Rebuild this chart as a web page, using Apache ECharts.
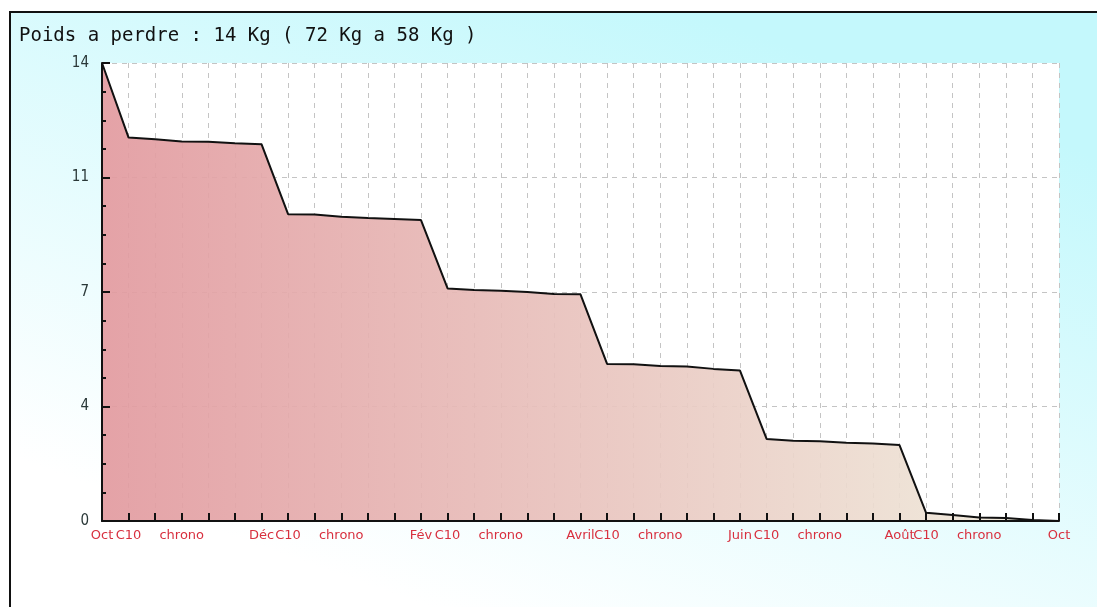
<!DOCTYPE html>
<html>
<head>
<meta charset="utf-8">
<script src="https://cdn.jsdelivr.net/npm/echarts@6/dist/echarts.min.js"></script>
<style>
  html, body { margin: 0; padding: 0; background: #fff; }
  #chart { width: 1097px; height: 607px; }
</style>
</head>
<body>
<div id="chart"></div>
<script>
// kilos restant a perdre, un point par graduation (2 mois = 6 graduations)
var titleText = "Poids a perdre : 14 Kg ( 72 Kg a 58 Kg )";
var categories = [
  "Oct", "C10", "", "chrono", "", "",
  "Déc", "C10", "", "chrono", "", "",
  "Fév", "C10", "", "chrono", "", "",
  "Avril", "C10", "", "chrono", "", "",
  "Juin", "C10", "", "chrono", "", "",
  "Août", "C10", "", "chrono", "", "",
  "Oct"
];
var remaining = [
  14, 11.72, 11.67, 11.6, 11.59, 11.55,
  11.52, 9.38, 9.37, 9.3, 9.26, 9.23,
  9.2, 7.11, 7.06, 7.04, 7.0, 6.94,
  6.93, 4.8, 4.79, 4.74, 4.72, 4.65,
  4.6, 2.51, 2.45, 2.44, 2.39, 2.37,
  2.32, 0.25, 0.18, 0.11, 0.09, 0.03,
  0
];
var yTickLabels = ["0", "4", "7", "11", "14"];

var gridDash = { color: "#c4c4c4", type: [5, 5], width: 1 };
var axisBlack = { color: "#111111", width: 2 };

var myChart = echarts.init(document.getElementById("chart"));
myChart.setOption({
  animation: false,
  backgroundColor: "#ffffff",
  graphic: [
    {
      type: "rect",
      z: -10,
      shape: { x: 10, y: 12, width: 1100, height: 610 },
      style: {
        fill: new echarts.graphic.LinearGradient(0.62, 0, 0.42, 1, [
          { offset: 0, color: "#c4f8fc" },
          { offset: 1, color: "#ffffff" }
        ]),
        stroke: "#111111",
        lineWidth: 2
      }
    }
  ],
  title: {
    text: titleText,
    left: 14,
    top: 22,
    textStyle: {
      fontFamily: "DejaVu Sans Mono",
      fontSize: 19,
      fontWeight: "normal",
      color: "#111111"
    }
  },
  grid: {
    left: 102,
    right: 38,
    top: 63,
    bottom: 86,
    show: true,
    backgroundColor: "#ffffff",
    borderWidth: 0
  },
  xAxis: [
    {
      // grille pointillee, sous la courbe
      type: "category",
      boundaryGap: false,
      data: categories,
      z: 0,
      axisLine: { show: false },
      axisTick: { show: false },
      axisLabel: { show: false },
      splitLine: { show: true, interval: 0, lineStyle: gridDash }
    },
    {
      // axe, graduations et libelles, au-dessus de la courbe
      type: "category",
      position: "bottom",
      boundaryGap: false,
      data: categories,
      z: 5,
      axisLine: { lineStyle: axisBlack },
      axisTick: { show: true, inside: true, length: 8, interval: 0, lineStyle: axisBlack },
      axisLabel: {
        interval: 0,
        margin: 8,
        color: "#d8303f",
        fontFamily: "DejaVu Sans",
        fontSize: 13
      },
      splitLine: { show: false }
    }
  ],
  yAxis: [
    {
      type: "value",
      min: 0,
      max: 14,
      interval: 3.5,
      z: 0,
      axisLine: { show: false },
      axisTick: { show: false },
      axisLabel: { show: false },
      splitLine: { show: true, lineStyle: gridDash }
    },
    {
      type: "value",
      position: "left",
      min: 0,
      max: 14,
      interval: 3.5,
      z: 5,
      axisLine: { show: true, lineStyle: axisBlack },
      axisTick: { show: true, inside: true, length: 8, lineStyle: axisBlack },
      minorTick: { show: true, splitNumber: 4, length: 4, lineStyle: axisBlack },
      axisLabel: {
        margin: 13,
        color: "#2a3838",
        fontFamily: "DejaVu Sans Condensed",
        fontSize: 15,
        formatter: function (value, index) {
          return yTickLabels[index];
        }
      },
      splitLine: { show: false }
    }
  ],
  series: [
    {
      name: "Poids",
      type: "line",
      xAxisIndex: 0,
      yAxisIndex: 0,
      data: remaining,
      symbol: "none",
      lineStyle: { color: "#111111", width: 2 },
      areaStyle: {
        opacity: 0.92,
        color: new echarts.graphic.LinearGradient(0, 0, 1, 0, [
          { offset: 0, color: "#e29a9f" },
          { offset: 1, color: "#efecdc" }
        ])
      }
    }
  ]
});
</script>
</body>
</html>
